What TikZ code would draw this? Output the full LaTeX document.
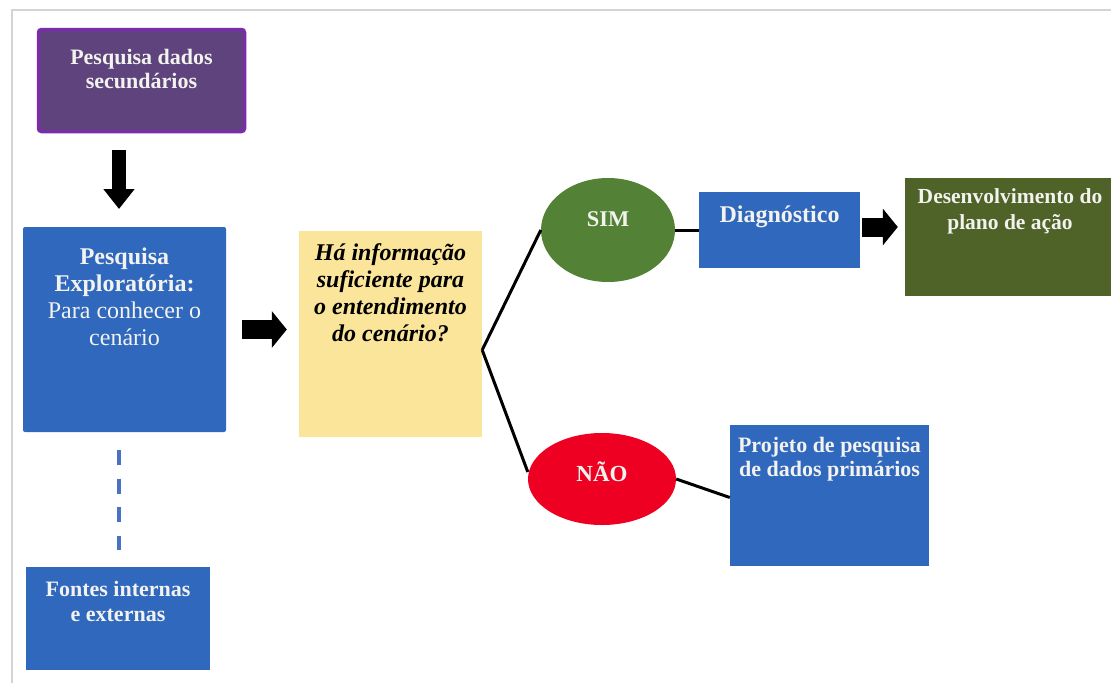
\documentclass[tikz,border=0pt]{standalone}
\usepackage{fontspec}
\setmainfont{Liberation Serif}
\usetikzlibrary{arrows.meta,shapes.geometric}
\definecolor{frameg}{HTML}{D4D4D4}
\definecolor{purpfill}{HTML}{5E437C}
\definecolor{purpline}{HTML}{7A2DA8}
\definecolor{bluebox}{HTML}{3068BE}
\definecolor{yelbox}{HTML}{FAE59A}
\definecolor{simgreen}{HTML}{538135}
\definecolor{naored}{HTML}{EE0022}
\definecolor{olivebox}{HTML}{4F6228}
\definecolor{dashblue}{HTML}{4A72C4}
\definecolor{lighttxt}{HTML}{F2F2EE}
\tikzset{
  box/.style={draw=none, inner sep=0pt, rectangle},
  txt/.style={inner sep=0pt, align=center, anchor=north, text=lighttxt},
  blockarrow/.style={draw=black, line width=14pt, -{Triangle[length=20pt,width=30pt]}},
  hblockarrow/.style={draw=black, line width=19pt, -{Triangle[length=15pt,width=36pt]}},
  link/.style={draw=black, line width=3pt},
}
\begin{document}
\begin{tikzpicture}[x=1pt,y=-1pt]
\useasboundingbox (0,0) rectangle (1111,683);
% frame
\draw[frameg, line width=1.5pt] (12,683) -- (12,10) -- (1111,10);
% purple box
\node[box, fill=purpfill, draw=purpline, line width=3.5pt, rounded corners=3pt,
  minimum width=206pt, minimum height=102pt] (sec) at (141.5,80.5) {};
\node[txt, font=\bfseries\fontsize{22}{24}\selectfont] (sectxt) at (141.5,49) {Pesquisa dados\\secundários};
% exploratoria
\node[box, fill=bluebox, rounded corners=2pt, minimum width=203pt, minimum height=205pt] (expl) at (124.5,329.5) {};
\node[txt, font=\fontsize{24}{27}\selectfont] (expltxt) at (124.5,248) {\textbf{Pesquisa}\\\textbf{Exploratória:}\\Para conhecer o\\cenário};
% fontes
\node[box, fill=bluebox, minimum width=184pt, minimum height=103pt] (fontes) at (118,618.5) {};
\node[txt, font=\bfseries\fontsize{22}{25}\selectfont] (fontestxt) at (118,581) {Fontes internas\\e externas};
% yellow
\node[box, fill=yelbox, minimum width=183pt, minimum height=206pt] (yel) at (390.5,334) {};
\node[txt, text=black, font=\bfseries\itshape\fontsize{24}{27}\selectfont] (yeltxt) at (390.5,243) {Há informação\\suficiente para\\o entendimento\\do cenário?};
% SIM
\node[ellipse, fill=simgreen, inner sep=0pt, minimum width=134pt, minimum height=104pt] (sim) at (608,230) {};
\node[txt, anchor=center, font=\bfseries\fontsize{22.5}{24}\selectfont] (simtxt) at (608,219) {SIM};
% NAO
\node[ellipse, fill=naored, inner sep=0pt, minimum width=148pt, minimum height=92pt] (nao) at (602,479) {};
\node[txt, anchor=center, font=\bfseries\fontsize{23}{24}\selectfont] (naotxt) at (602,472) {NÃO};
% diagnostico
\node[box, fill=bluebox, minimum width=161pt, minimum height=76pt] (diag) at (779.5,230) {};
\node[txt, font=\bfseries\fontsize{24}{26}\selectfont] (diagtxt) at (779.5,206) {Diagnóstico};
% desenvolvimento
\node[box, fill=olivebox, minimum width=210pt, minimum height=118pt] (desenv) at (1010,237) {};
\node[txt, font=\bfseries\fontsize{21.5}{26}\selectfont] (desenvtxt) at (1010,188) {Desenvolvimento do\\plano de ação};
% projeto
\node[box, fill=bluebox, minimum width=199pt, minimum height=141pt] (proj) at (829.5,495.5) {};
\node[txt, font=\bfseries\fontsize{22}{24}\selectfont] (projtxt) at (829.5,437) {Projeto de pesquisa\\de dados primários};
% connectors
\coordinate (fork) at ([yshift=-16pt]yel.east);
\draw[link] (fork) -- (sim.west);
\draw[link] (fork) -- ([yshift=7pt]nao.west);
\draw[link] (sim.east) -- (diag.west);
\draw[link] (nao.east) -- ([yshift=-2pt]proj.west);
% block arrows
\coordinate (a1s) at (119,150);
\coordinate (a1e) at (119,209);
\draw[blockarrow] (a1s) -- (a1e);
\draw[hblockarrow] ([xshift=16pt]expl.east) -- ([xshift=-12pt]yel.west |- expl.east);
\draw[hblockarrow] ([xshift=2pt,yshift=3pt]diag.east) -- ([xshift=-7pt,yshift=3pt]desenv.west |- diag.east);
% dashed
\coordinate (d1) at (119,450);
\coordinate (d2) at (119,550);
\draw[dashblue, line width=3.5pt, dash pattern=on 15pt off 13.5pt] (d1) -- (d2);
\end{tikzpicture}
\end{document}
